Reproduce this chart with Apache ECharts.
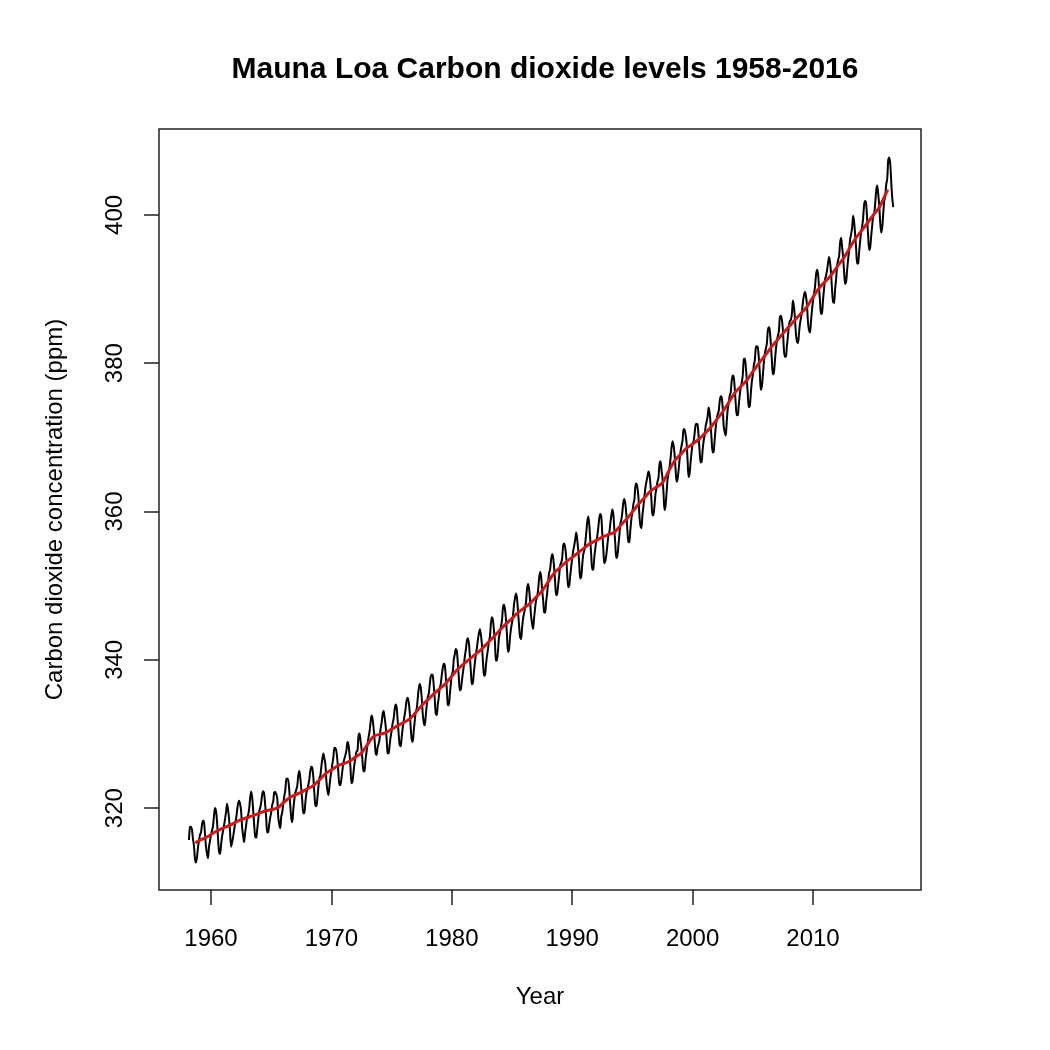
<!DOCTYPE html>
<html>
<head>
<meta charset="utf-8">
<script src="https://cdn.jsdelivr.net/npm/echarts@6/dist/echarts.min.js"></script>
<style>
html,body{margin:0;padding:0;background:#fff;}
#chart{width:1050px;height:1050px;}
</style>
</head>
<body>
<div id="chart"></div>
<script>
// Monthly CO2 (ppm); first row starts March 1958, last row ends September 2016
const firstYear = 1958;
const firstMonth = 3;
const co2_1950s = [
  [315.71, 317.45, 317.50, 317.10, 315.86, 314.93, 313.20, 312.66, 313.33, 314.67],
  [315.62, 316.38, 316.71, 317.72, 318.29, 318.15, 316.54, 314.80, 313.84, 313.26, 314.80, 315.58]
];
const co2_1960s = [
  [316.43, 316.97, 317.58, 319.02, 320.03, 319.59, 318.18, 315.91, 314.16, 313.83, 315.00, 316.19],
  [316.93, 317.70, 318.54, 319.48, 320.58, 319.77, 318.57, 316.79, 314.80, 315.38, 316.10, 317.01],
  [317.94, 318.56, 319.68, 320.63, 321.01, 320.55, 319.58, 317.40, 316.26, 315.42, 316.69, 317.69],
  [318.74, 319.08, 319.86, 321.39, 322.25, 321.47, 319.74, 317.77, 316.21, 315.99, 317.07, 318.35],
  [319.57, 320.01, 320.74, 321.84, 322.26, 321.89, 320.44, 318.70, 316.70, 316.79, 317.79, 318.71],
  [319.44, 320.44, 320.89, 322.13, 322.16, 321.87, 321.39, 318.81, 317.81, 317.30, 318.87, 319.42],
  [320.62, 321.59, 322.39, 323.87, 324.01, 323.75, 322.39, 320.37, 318.64, 318.10, 319.79, 321.08],
  [322.07, 322.50, 323.04, 324.42, 325.00, 324.09, 322.55, 320.92, 319.31, 319.31, 320.72, 321.96],
  [322.57, 323.15, 323.89, 325.02, 325.57, 325.36, 324.14, 322.03, 320.41, 320.25, 321.31, 322.84],
  [324.00, 324.42, 325.64, 326.66, 327.38, 326.70, 325.89, 323.67, 322.38, 321.78, 322.85, 324.11]
];
const co2_1970s = [
  [325.03, 325.99, 326.87, 328.13, 328.07, 327.66, 326.35, 324.69, 323.10, 323.16, 323.98, 325.13],
  [326.17, 326.68, 327.18, 327.78, 328.92, 328.57, 327.34, 325.46, 323.36, 323.57, 324.80, 326.01],
  [326.77, 327.63, 327.75, 329.72, 330.07, 329.09, 328.05, 326.32, 324.93, 325.06, 326.50, 327.55],
  [328.54, 329.56, 330.30, 331.50, 332.48, 332.07, 330.87, 329.31, 327.51, 327.18, 328.16, 328.64],
  [329.35, 330.71, 331.48, 332.65, 333.09, 332.25, 331.18, 329.40, 327.44, 327.37, 328.46, 329.58],
  [330.40, 331.42, 332.04, 333.31, 333.96, 333.59, 331.91, 330.06, 328.56, 328.34, 329.49, 330.76],
  [331.75, 332.56, 333.50, 334.58, 334.87, 334.34, 333.05, 330.94, 329.30, 328.94, 330.31, 331.68],
  [332.92, 333.42, 334.70, 336.07, 336.74, 336.27, 334.93, 332.75, 331.58, 331.16, 332.40, 333.85],
  [334.97, 335.39, 336.64, 337.76, 338.01, 337.89, 336.54, 334.68, 332.76, 332.54, 333.92, 334.95],
  [336.23, 336.76, 337.96, 338.89, 339.47, 339.29, 337.73, 336.09, 333.91, 333.86, 335.29, 336.73]
];
const co2_1980s = [
  [338.01, 338.36, 340.08, 340.77, 341.46, 341.17, 339.56, 337.60, 335.88, 336.01, 337.10, 338.21],
  [339.23, 340.47, 341.38, 342.51, 342.91, 342.25, 340.49, 338.43, 336.69, 336.85, 338.36, 339.61],
  [340.75, 341.61, 342.70, 343.56, 344.13, 343.35, 342.06, 339.82, 337.97, 337.86, 339.26, 340.49],
  [341.37, 342.52, 343.10, 344.94, 345.75, 345.32, 343.99, 342.39, 339.86, 339.99, 341.16, 343.00],
  [343.70, 344.51, 345.28, 347.08, 347.43, 346.79, 345.40, 343.28, 341.07, 341.35, 342.98, 344.22],
  [344.97, 346.00, 347.43, 348.35, 348.93, 348.25, 346.56, 344.69, 343.09, 342.80, 344.24, 345.56],
  [346.29, 346.96, 347.86, 349.55, 350.21, 349.54, 347.94, 345.91, 344.86, 344.17, 345.66, 346.90],
  [348.02, 348.47, 349.42, 350.99, 351.84, 351.25, 349.52, 348.10, 346.44, 346.36, 347.81, 348.96],
  [350.43, 351.72, 352.22, 353.59, 354.22, 353.79, 352.39, 350.44, 348.72, 348.88, 350.07, 351.34],
  [352.76, 353.07, 353.68, 355.42, 355.67, 355.12, 353.90, 351.67, 349.80, 349.99, 351.30, 352.53]
];
const co2_1990s = [
  [353.66, 354.70, 355.39, 356.20, 357.16, 356.22, 354.82, 352.91, 350.96, 351.18, 352.83, 354.21],
  [354.72, 355.75, 357.16, 358.60, 359.34, 358.24, 356.17, 354.03, 352.16, 352.21, 353.75, 354.99],
  [355.98, 356.72, 357.81, 359.15, 359.66, 359.25, 357.02, 355.00, 353.01, 353.31, 354.16, 355.40],
  [356.70, 357.16, 358.38, 359.46, 360.28, 359.60, 357.57, 355.52, 353.70, 353.98, 355.33, 356.80],
  [358.36, 358.91, 359.97, 361.26, 361.68, 360.95, 359.55, 357.49, 355.84, 355.99, 357.58, 359.04],
  [359.97, 361.00, 361.64, 363.45, 363.79, 363.26, 361.90, 359.46, 358.06, 357.75, 359.56, 360.70],
  [362.05, 363.25, 364.03, 364.72, 365.41, 364.97, 363.65, 361.49, 359.46, 359.60, 360.76, 362.33],
  [363.18, 364.00, 364.57, 366.35, 366.79, 365.62, 364.47, 362.51, 360.19, 360.77, 362.43, 364.28],
  [365.18, 365.98, 367.13, 368.61, 369.49, 368.95, 367.74, 365.79, 364.01, 364.35, 365.52, 366.97],
  [368.15, 368.87, 369.59, 371.14, 371.00, 370.35, 369.27, 366.93, 364.64, 365.13, 366.68, 368.00]
];
const co2_2000s = [
  [369.14, 369.46, 370.51, 371.66, 371.83, 371.69, 370.12, 368.12, 366.62, 366.73, 368.29, 369.53],
  [370.28, 371.50, 372.12, 372.87, 374.02, 373.30, 371.62, 369.55, 367.96, 368.09, 369.68, 371.24],
  [372.44, 373.08, 373.52, 374.85, 375.55, 375.40, 374.02, 371.48, 370.71, 370.25, 372.08, 373.78],
  [374.68, 375.62, 376.11, 377.65, 378.35, 378.13, 376.62, 374.50, 372.99, 373.00, 374.35, 375.70],
  [376.79, 377.37, 378.41, 380.52, 380.63, 379.57, 377.79, 375.86, 374.06, 374.24, 375.86, 377.48],
  [378.37, 379.69, 380.41, 382.10, 382.28, 382.13, 380.66, 378.71, 376.42, 376.88, 378.32, 380.04],
  [381.29, 381.94, 382.66, 384.41, 384.85, 384.37, 382.50, 380.42, 378.49, 378.67, 380.25, 381.84],
  [382.97, 383.70, 384.34, 386.23, 386.41, 385.87, 384.45, 381.84, 380.86, 380.86, 382.36, 383.61],
  [385.07, 385.72, 385.85, 386.71, 388.45, 387.64, 386.10, 383.95, 382.91, 382.73, 383.96, 385.34],
  [386.08, 387.01, 388.28, 389.18, 389.60, 389.05, 387.85, 385.53, 384.46, 384.13, 385.68, 387.17]
];
const co2_2010s = [
  [388.41, 389.34, 390.32, 391.91, 392.61, 392.04, 390.21, 388.29, 386.63, 386.74, 388.54, 389.97],
  [391.28, 391.83, 392.56, 393.50, 394.33, 393.61, 392.12, 389.82, 388.29, 388.11, 389.94, 391.30],
  [393.05, 393.88, 394.42, 396.23, 396.92, 395.67, 394.31, 392.34, 390.68, 390.98, 392.59, 393.96],
  [395.31, 396.64, 397.41, 398.29, 399.87, 399.01, 397.32, 395.41, 393.42, 393.46, 395.04, 396.46],
  [397.75, 398.44, 399.64, 401.42, 401.86, 401.50, 399.30, 397.09, 395.28, 395.63, 397.16, 398.57],
  [399.87, 400.25, 401.54, 403.28, 403.96, 402.80, 401.31, 398.93, 397.63, 398.29, 400.16, 401.85],
  [402.56, 404.12, 404.87, 407.45, 407.72, 406.83, 404.41, 402.27, 401.05]
];

// Smoothed (12-month average) trend, read at half-year points
const trendYears = [
  1958.71, 1959.0, 1959.5, 1960.0, 1960.5, 1961.0, 1961.5, 1962.0, 1962.5, 1963.0, 1963.5,
  1964.0, 1964.5, 1965.0, 1965.5, 1966.0, 1966.5, 1967.0, 1967.5, 1968.0, 1968.5,
  1969.0, 1969.5, 1970.0, 1970.5, 1971.0, 1971.5, 1972.0, 1972.5, 1973.0, 1973.5,
  1974.0, 1974.5, 1975.0, 1975.5, 1976.0, 1976.5, 1977.0, 1977.5, 1978.0, 1978.5,
  1979.0, 1979.5, 1980.0, 1980.5, 1981.0, 1981.5, 1982.0, 1982.5, 1983.0, 1983.5,
  1984.0, 1984.5, 1985.0, 1985.5, 1986.0, 1986.5, 1987.0, 1987.5, 1988.0, 1988.5,
  1989.0, 1989.5, 1990.0, 1990.5, 1991.0, 1991.5, 1992.0, 1992.5, 1993.0, 1993.5,
  1994.0, 1994.5, 1995.0, 1995.5, 1996.0, 1996.5, 1997.0, 1997.5, 1998.0, 1998.5,
  1999.0, 1999.5, 2000.0, 2000.5, 2001.0, 2001.5, 2002.0, 2002.5, 2003.0, 2003.5,
  2004.0, 2004.5, 2005.0, 2005.5, 2006.0, 2006.5, 2007.0, 2007.5, 2008.0, 2008.5,
  2009.0, 2009.5, 2010.0, 2010.5, 2011.0, 2011.5, 2012.0, 2012.5, 2013.0, 2013.5,
  2014.0, 2014.5, 2015.0, 2015.5, 2016.0, 2016.21
];
const trendValues = [
  315.30, 315.63, 315.97, 316.45, 316.91, 317.30, 317.64, 318.05, 318.45, 318.70, 318.99,
  319.30, 319.62, 319.80, 320.04, 320.70, 321.38, 321.80, 322.16, 322.60, 323.04,
  323.80, 324.62, 325.15, 325.68, 326.00, 326.32, 326.90, 327.45, 328.60, 329.68,
  329.95, 330.19, 330.65, 331.12, 331.55, 332.03, 332.90, 333.84, 334.60, 335.41,
  336.10, 336.84, 337.80, 338.76, 339.45, 340.12, 340.80, 341.48, 342.30, 343.15,
  344.00, 344.85, 345.60, 346.35, 347.00, 347.61, 348.45, 349.31, 350.50, 351.69,
  352.45, 353.20, 353.80, 354.45, 355.10, 355.70, 356.10, 356.54, 356.90, 357.21,
  358.10, 358.96, 359.95, 360.97, 361.85, 362.74, 363.30, 363.88, 365.40, 366.84,
  367.70, 368.54, 369.10, 369.71, 370.50, 371.32, 372.40, 373.45, 374.70, 375.98,
  376.85, 377.70, 378.85, 379.98, 381.00, 382.09, 383.05, 384.02, 384.90, 385.83,
  386.70, 387.64, 388.90, 390.10, 391.00, 391.85, 393.00, 394.06, 395.40, 396.74,
  397.80, 398.87, 399.95, 401.01, 402.70, 403.40
];

const xTicks = [1960, 1970, 1980, 1990, 2000, 2010];
const yTicks = [320, 340, 360, 380, 400];

// Build [time, value] pairs (time in decimal years, like an R ts object)
const allRows = [].concat(co2_1950s, co2_1960s, co2_1970s, co2_1980s, co2_1990s, co2_2000s, co2_2010s);
const monthly = [];
allRows.forEach(function (row, r) {
  const year = firstYear + r;
  const startM = (r === 0) ? firstMonth - 1 : 0;
  row.forEach(function (v, i) {
    monthly.push([year + (startM + i) / 12, v]);
  });
});
const trend = trendYears.map(function (t, i) { return [t, trendValues[i]]; });

const FONT = 'Liberation Sans, Arial, Helvetica, sans-serif';
const chart = echarts.init(document.getElementById('chart'), null, { renderer: 'canvas' });
chart.setOption({
  animation: false,
  backgroundColor: '#ffffff',
  title: {
    text: 'Mauna Loa Carbon dioxide levels 1958-2016',
    left: 540,
    textAlign: 'center',
    top: 50,
    textStyle: { fontFamily: FONT, fontSize: 30, fontWeight: 'bold', color: '#000' }
  },
  grid: {
    left: 159, top: 129, right: 129, bottom: 160,
    show: true, borderColor: '#222', borderWidth: 1.5, backgroundColor: 'transparent'
  },
  xAxis: {
    type: 'value',
    min: 1955.68, max: 2018.97,
    name: 'Year',
    nameLocation: 'middle',
    nameGap: 95,
    nameTextStyle: { fontFamily: FONT, fontSize: 24, color: '#000' },
    axisLine: { show: false },
    axisTick: { show: true, inside: false, length: 15, customValues: xTicks, lineStyle: { color: '#222', width: 1.5 } },
    axisLabel: {
      customValues: xTicks, fontFamily: FONT, fontSize: 24, color: '#000', margin: 37,
      formatter: function (v) { return String(v); }
    },
    splitLine: { show: false }
  },
  yAxis: {
    type: 'value',
    min: 308.96, max: 411.58,
    name: 'Carbon dioxide concentration (ppm)',
    nameLocation: 'middle',
    nameGap: 92,
    nameRotate: 90,
    nameTextStyle: { fontFamily: FONT, fontSize: 24, color: '#000' },
    axisLine: { show: false },
    axisTick: { show: true, inside: false, length: 15, customValues: yTicks, lineStyle: { color: '#222', width: 1.5 } },
    axisLabel: {
      customValues: yTicks, rotate: 90, fontFamily: FONT, fontSize: 24, color: '#000', margin: 32,
      formatter: function (v) { return String(v); }
    },
    splitLine: { show: false }
  },
  series: [
    {
      name: 'Monthly CO2',
      type: 'line',
      data: monthly,
      showSymbol: false,
      smooth: 0.3,
      lineStyle: { color: '#000', width: 2 },
      z: 2
    },
    {
      name: 'Trend',
      type: 'line',
      data: trend,
      showSymbol: false,
      smooth: 0.4,
      lineStyle: { color: '#CC1A1A', width: 3 },
      z: 3
    }
  ]
});
</script>
</body>
</html>
